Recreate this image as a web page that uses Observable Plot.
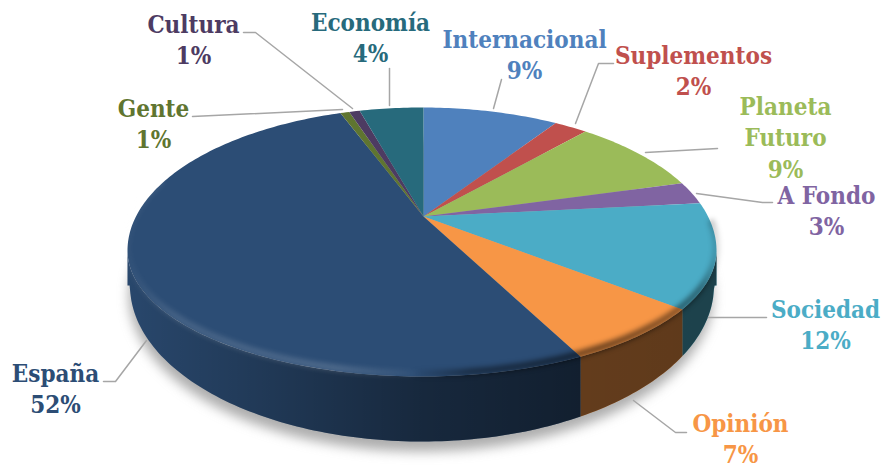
<!DOCTYPE html>
<html>
<head>
<meta charset="utf-8">
<script src="https://cdn.jsdelivr.net/npm/d3@7"></script>
<script src="https://cdn.jsdelivr.net/npm/@observablehq/plot@0.6"></script>
<style>
html,body{margin:0;padding:0;background:#fff}
svg{display:block}
</style>
</head>
<body>
<div id="chart"></div>
<script>
// Data
const categories = ["Internacional","Suplementos","Planeta Futuro","A Fondo","Sociedad","Opinión","España","Gente","Cultura","Economía"];
const shares = [9.0,2.25,9.3,2.75,12.45,6.85,51.9,0.6,0.7,4.2];
const sliceColors = ["#4f81bd","#c0504d","#9bbb59","#8064a2","#4bacc6","#f79646","#2c4d75","#5f7530","#4d3b62","#276a7c"];
const labelLines = ["Internacional","Suplementos","Planeta\nFuturo","A Fondo","Sociedad","Opinión","España","Gente","Cultura","Economía"];

// Layout of the labels and their leaders (pixels)
const labelCenters = [[524,53],[693,69],[785,136],[826,209],[825,323],[740,437],[55,387],[153,122],[193,38],[370,36]];
const leaderPaths = [
  [[501,79],[493,108]],
  [[613,63],[598,63],[575,123]],
  [[717,148],[645,152]],
  [[772,202],[762,202],[696,193]],
  [[766,317],[708,317]],
  [[686,432],[675,432],[633,400]],
  [[103,381],[115,381],[146,340]],
  [[192,116],[342,109]],
  [[243,32],[255,32],[352,108]],
  [[389,68],[389,105]]
];

// Pie geometry: apex of the slices, outline of the top face and of the bottom edge
const apex = [423, 216];
const persp = {k: -0.19, a: 289.6, b: 129.7};
const topEdge = {cx: 421.5, cy: 250, rx: 294.5, ryUp: 143, ryDown: 126};
const bottomEdge = {cx: 421.5, cy: 285, rx: 292, ry: 156};

const onTop = deg => {
  const t = deg * Math.PI / 180, u = Math.sin(t), v = -Math.cos(t), den = 1 + persp.k * v;
  const dx = persp.a * u / den, dy = persp.b * v / den;
  let lo = 0, hi = 3;
  for (let i = 0; i < 40; i++) {
    const r = (lo + hi) / 2, x = apex[0] + r * dx, y = apex[1] + r * dy;
    const ry = y < topEdge.cy ? topEdge.ryUp : topEdge.ryDown;
    const q = ((x - topEdge.cx) / topEdge.rx) ** 2 + ((y - topEdge.cy) / ry) ** 2;
    if (q < 1) lo = r; else hi = r;
  }
  return [apex[0] + lo * dx, apex[1] + lo * dy];
};
const onBottom = ([x]) => {
  const q = Math.min(1, ((x - bottomEdge.cx) / bottomEdge.rx) ** 2);
  return [x, bottomEdge.cy + bottomEdge.ry * Math.sqrt(1 - q)];
};
const arc = (from, to) => {
  const n = Math.max(2, Math.ceil(Math.abs(to - from)));
  return d3.range(n + 1).map(i => onTop(from + (to - from) * i / n));
};

const ends = Array.from(d3.cumsum(shares));
const total = ends[ends.length - 1];
const slices = categories.map((name, i) => ({
  name,
  from: (i ? ends[i - 1] : 0) / total * 360,
  to: ends[i] / total * 360
}));

// The wall is visible between the rightmost and the leftmost point of the rim
const degrees = d3.range(0, 360, 0.5);
const wallFrom = d3.greatest(degrees, d => onTop(d)[0]);
const wallTo = d3.least(degrees, d => onTop(d)[0]);

const toRow = name => ([x, y]) => ({name, x, y});
const faceRows = slices.flatMap(s => [apex, ...arc(s.from, s.to)].map(toRow(s.name)));
const wallRows = slices
  .filter(s => s.to > wallFrom && s.from < wallTo)
  .flatMap(s => {
    const edge = arc(Math.max(s.from, wallFrom), Math.min(s.to, wallTo));
    return [...edge, ...edge.slice().reverse().map(onBottom)].map(toRow(s.name));
  });
const silhouette = d3.range(0, 361, 2).map(d => {
  const t = d * Math.PI / 180;
  return {x: bottomEdge.cx + bottomEdge.rx * Math.cos(t), y: bottomEdge.cy + bottomEdge.ry * Math.sin(t)};
});
const rim = arc(94, 292).map(toRow("rim"));
const rimLeft = arc(165, 285).map(toRow("rim"));

const labels = categories.map((name, i) => ({
  text: `${labelLines[i]}\n${Math.round(shares[i])}%`,
  name, x: labelCenters[i][0], y: labelCenters[i][1]
}));
const leaderRows = leaderPaths.flatMap((p, i) => p.map(toRow(categories[i])));

const defs = () => {
  const d = d3.create("svg:defs");
  const grad = (id, x1, x2, stops) => {
    const g = d.append("linearGradient").attr("id", id).attr("gradientUnits", "userSpaceOnUse")
      .attr("x1", x1).attr("x2", x2).attr("y1", 0).attr("y2", 0);
    stops.forEach(([o, c, op]) => g.append("stop").attr("offset", o).attr("stop-color", c).attr("stop-opacity", op));
  };
  grad("wallShade", 128, 718, [[0,"#000",0.08],[0.2,"#000",0.24],[0.5,"#000",0.48],[0.77,"#000",0.6],[1,"#000",0.62]]);
  grad("rimShade", 128, 718, [[0,"#000",0],[0.48,"#000",0],[0.58,"#000",0.4],[0.8,"#000",0.55],[0.97,"#000",0.4],[1,"#000",0.1]]);
  grad("rimLight", 128, 718, [[0,"#fff",0.03],[0.08,"#fff",0.12],[0.35,"#fff",0.16],[0.46,"#fff",0.06],[0.5,"#fff",0]]);
  return d.node();
};

const fontFamily = "'DejaVu Serif Condensed','DejaVu Serif',serif";

const chart = Plot.plot({
  width: 885,
  height: 468,
  margin: 0,
  style: {background: "#fff"},
  x: {domain: [0, 885], range: [0, 885], axis: null},
  y: {domain: [0, 468], range: [0, 468], axis: null},
  color: {domain: categories, range: sliceColors},
  marks: [
    defs,
    Plot.line(silhouette, {x: "x", y: "y", fill: "#777", fillOpacity: 0.6, stroke: "none", dx: -1, dy: 10, imageFilter: "blur(6px)"}),
    Plot.line(wallRows, {x: "x", y: "y", z: "name", fill: "name", stroke: "none"}),
    Plot.line(wallRows, {x: "x", y: "y", z: "name", fill: "url(#wallShade)", stroke: "none"}),
    Plot.line(faceRows, {x: "x", y: "y", z: "name", fill: "name", stroke: "none"}),
    Plot.line(rim, {x: "x", y: "y", stroke: "url(#rimShade)", strokeWidth: 7, dy: -3, imageFilter: "blur(2.5px)"}),
    Plot.line(rimLeft, {x: "x", y: "y", stroke: "url(#rimLight)", strokeWidth: 7, dy: -3, imageFilter: "blur(2.5px)"}),
    Plot.line(leaderRows, {x: "x", y: "y", z: "name", stroke: "#a6a6a6", strokeWidth: 1.5}),
    Plot.text(labels, {
      x: "x", y: "y", text: "text", fill: "name",
      fontFamily, fontWeight: "bold", fontSize: 24, lineHeight: 1.3, textAnchor: "middle"
    })
  ]
});
document.getElementById("chart").appendChild(chart);
</script>
</body>
</html>
